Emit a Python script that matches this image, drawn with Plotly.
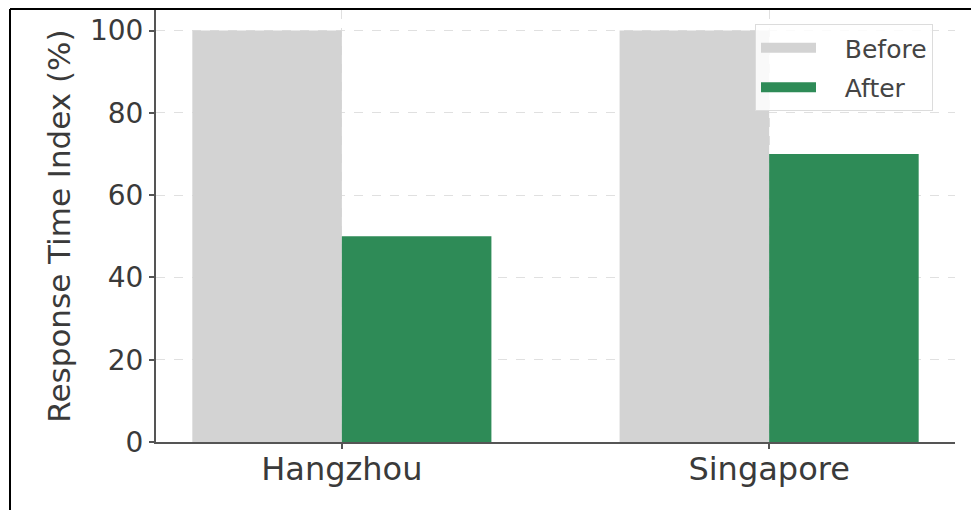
import plotly.graph_objects as go

cities = ["Hangzhou", "Singapore"]
before = [100, 100]
after = [50, 70]
series_names = ["Before", "After"]
colors = ["#d3d3d3", "#2e8b57"]

W, H = 971, 510
L, R, T, B = 156, 16, 10, 68
pw, ph = W - L - R, H - T - B

def px_x(x):
    return (x - L) / pw

def px_y(y):
    return (H - B - y) / ph

font = "DejaVu Sans, Liberation Sans, sans-serif"
txt = "#3a3a3a"

fig = go.Figure()
for name, vals, col in zip(series_names, [before, after], colors):
    fig.add_trace(go.Bar(x=cities, y=vals, name=name, marker_color=col,
                         marker_line_width=0, showlegend=False))
# legend entries with wide rectangular swatches
for name, col in zip(series_names, colors):
    fig.add_trace(go.Scatter(x=[None], y=[None], mode="lines",
                             name="\u00a0\u00a0\u00a0" + name,
                             legendgroup=name,
                             line=dict(color=col, width=20)))

fig.update_layout(
    width=W, height=H,
    margin=dict(l=L, r=R, t=T, b=B, pad=0),
    paper_bgcolor="white", plot_bgcolor="white",
    barmode="group", bargap=0.3, bargroupgap=0,
    font=dict(family=font, color=txt, size=26),
    legend=dict(x=px_x(755), y=px_y(24), xanchor="left", yanchor="top",
                bgcolor="rgba(255,255,255,0.85)", bordercolor="#dcdcdc", borderwidth=1,
                font=dict(size=25, color="#444"), itemwidth=55, tracegroupgap=4),
    xaxis=dict(range=[-0.435, 1.435], showline=True, linecolor="#555", linewidth=2,
               ticks="outside", ticklen=5, tickcolor="#555", tickwidth=1.5,
               showgrid=True, gridcolor="#e0e0e0", griddash="dash", gridwidth=1,
               tickfont=dict(size=32, color=txt), zeroline=False,
               ticklabelstandoff=-7),
    yaxis=dict(range=[0, 105], tickvals=[0, 20, 40, 60, 80, 100],
               showline=True, linecolor="#555", linewidth=2,
               ticks="outside", ticklen=5, tickcolor="#555", tickwidth=1.5,
               showgrid=True, gridcolor="#e0e0e0", griddash="dash", gridwidth=1,
               tickfont=dict(size=28, color=txt), zeroline=False,
               title=dict(text="Response Time Index (%)", font=dict(size=31, color=txt),
                          standoff=10)),
    shapes=[
        dict(type="line", xref="paper", yref="paper", x0=px_x(10), x1=px_x(971),
             y0=px_y(9), y1=px_y(9), line=dict(color="black", width=2)),
        dict(type="line", xref="paper", yref="paper", x0=px_x(10), x1=px_x(10),
             y0=px_y(9), y1=px_y(510), line=dict(color="black", width=2)),
    ],
)

fig.write_html("out.html")
